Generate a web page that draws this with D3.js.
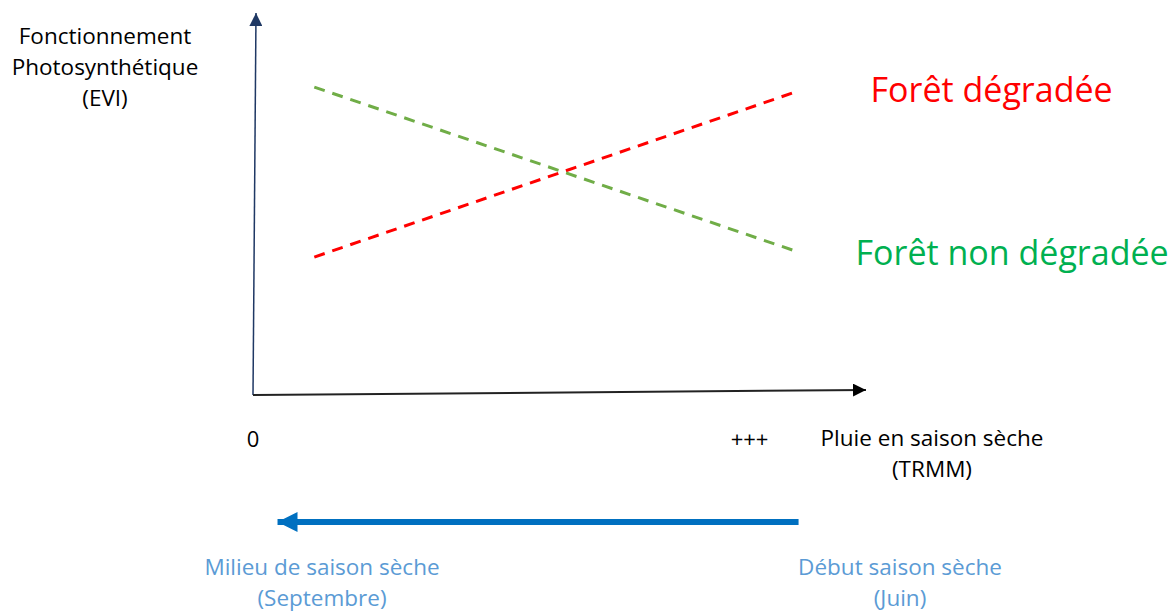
<!DOCTYPE html>
<html>
<head>
<meta charset="utf-8">
<script src="https://cdn.jsdelivr.net/npm/d3@7"></script>
<style>
  body { margin: 0; background: #fff; }
  svg { display: block; font-family: "Open Sans", Lato, sans-serif; }
</style>
</head>
<body>
<div id="schema"></div>
<script>
var pluie = [10, 89]               // début et fin des droites sur l'axe x
var foretNonDegradee = [80.6, 37.4] // EVI aux deux extrémités
var foretDegradee = [36.1, 79.6]
var ticksX = [{v: 0, label: "0"}, {v: 81, label: "+++"}]
var titreY = ["Fonctionnement", "Photosynthétique", "(EVI)"]
var titreX = ["Pluie en saison sèche", "(TRMM)"]
var saisonGauche = ["Milieu de saison sèche", "(Septembre)"]
var saisonDroite = ["Début saison sèche", "(Juin)"]

var width = 1176
var height = 612

var x = d3.scaleLinear().domain([0, 100]).range([253, 866])
var y = d3.scaleLinear().domain([0, 100]).range([395, 13])

var svg = d3.select("#schema")
    .append("svg")
    .attr("width", width)
    .attr("height", height)

var defs = svg.append("defs")
function fleche(id, couleur, w, h) {
    defs.append("marker")
        .attr("id", id)
        .attr("viewBox", "0 0 10 10")
        .attr("refX", 10).attr("refY", 5)
        .attr("markerUnits", "userSpaceOnUse")
        .attr("markerWidth", w).attr("markerHeight", h)
        .attr("orient", "auto")
        .append("path")
        .attr("d", "M0,0L10,5L0,10Z")
        .attr("fill", couleur)
}
fleche("flecheY", "#1f3864", 13, 13)
fleche("flecheX", "#000", 13, 13)
fleche("flecheBleue", "#0070c0", 20, 22)

// axe y (légèrement penché comme sur le schéma)
svg.append("line")
    .attr("x1", x(0)).attr("y1", y(0))
    .attr("x2", x(0) + 3).attr("y2", y(100))
    .attr("stroke", "#1f3864")
    .attr("stroke-width", 1.5)
    .attr("marker-end", "url(#flecheY)")

// axe x
svg.append("line")
    .attr("x1", x(0)).attr("y1", y(0))
    .attr("x2", x(100)).attr("y2", y(0) - 5)
    .attr("stroke", "#222")
    .attr("stroke-width", 2)
    .attr("marker-end", "url(#flecheX)")

// droites en tirets
var ligne = d3.line().x(d => x(d[0])).y(d => y(d[1]))
var series = [
    {nom: "Forêt dégradée", valeurs: foretDegradee, couleur: "#ff0000", texte: "#ff0000", dx: 72, dy: 11},
    {nom: "Forêt non dégradée", valeurs: foretNonDegradee, couleur: "#70ad47", texte: "#00b050", dx: 57, dy: 13}
]
svg.selectAll("path.serie")
    .data(series)
    .join("path")
    .attr("class", "serie")
    .attr("d", s => ligne(pluie.map((p, i) => [p, s.valeurs[i]])))
    .attr("fill", "none")
    .attr("stroke", s => s.couleur)
    .attr("stroke-width", 3)
    .attr("stroke-dasharray", "11,8")

svg.selectAll("text.serie")
    .data(series)
    .join("text")
    .attr("class", "serie")
    .attr("x", s => x(pluie[1]) + s.dx)
    .attr("y", s => y(s.valeurs[1]) + s.dy)
    .attr("fill", s => s.texte)
    .attr("font-size", 34)
    .text(s => s.nom)

// graduations x
svg.selectAll("text.tick")
    .data(ticksX)
    .join("text")
    .attr("class", "tick")
    .attr("x", d => x(d.v))
    .attr("y", 447)
    .attr("text-anchor", "middle")
    .attr("font-size", 22)
    .attr("fill", "#000")
    .text(d => d.label)

function bloc(lignes, cx, y0, couleur) {
    svg.append("text")
        .attr("text-anchor", "middle")
        .attr("font-size", 22.5)
        .attr("fill", couleur)
        .selectAll("tspan")
        .data(lignes)
        .join("tspan")
        .attr("x", cx)
        .attr("y", (d, i) => y0 + i * 31)
        .text(d => d)
}
bloc(titreY, 105, 44, "#000")
bloc(titreX, 932, 446, "#000")
bloc(saisonGauche, 322, 575, "#5b9bd5")
bloc(saisonDroite, 900, 575, "#5b9bd5")

// flèche bleue : avancée de la saison sèche
svg.append("line")
    .attr("x1", x(89)).attr("y1", 522)
    .attr("x2", x(4)).attr("y2", 522)
    .attr("stroke", "#0070c0")
    .attr("stroke-width", 6)
    .attr("marker-end", "url(#flecheBleue)")
</script>
</body>
</html>
